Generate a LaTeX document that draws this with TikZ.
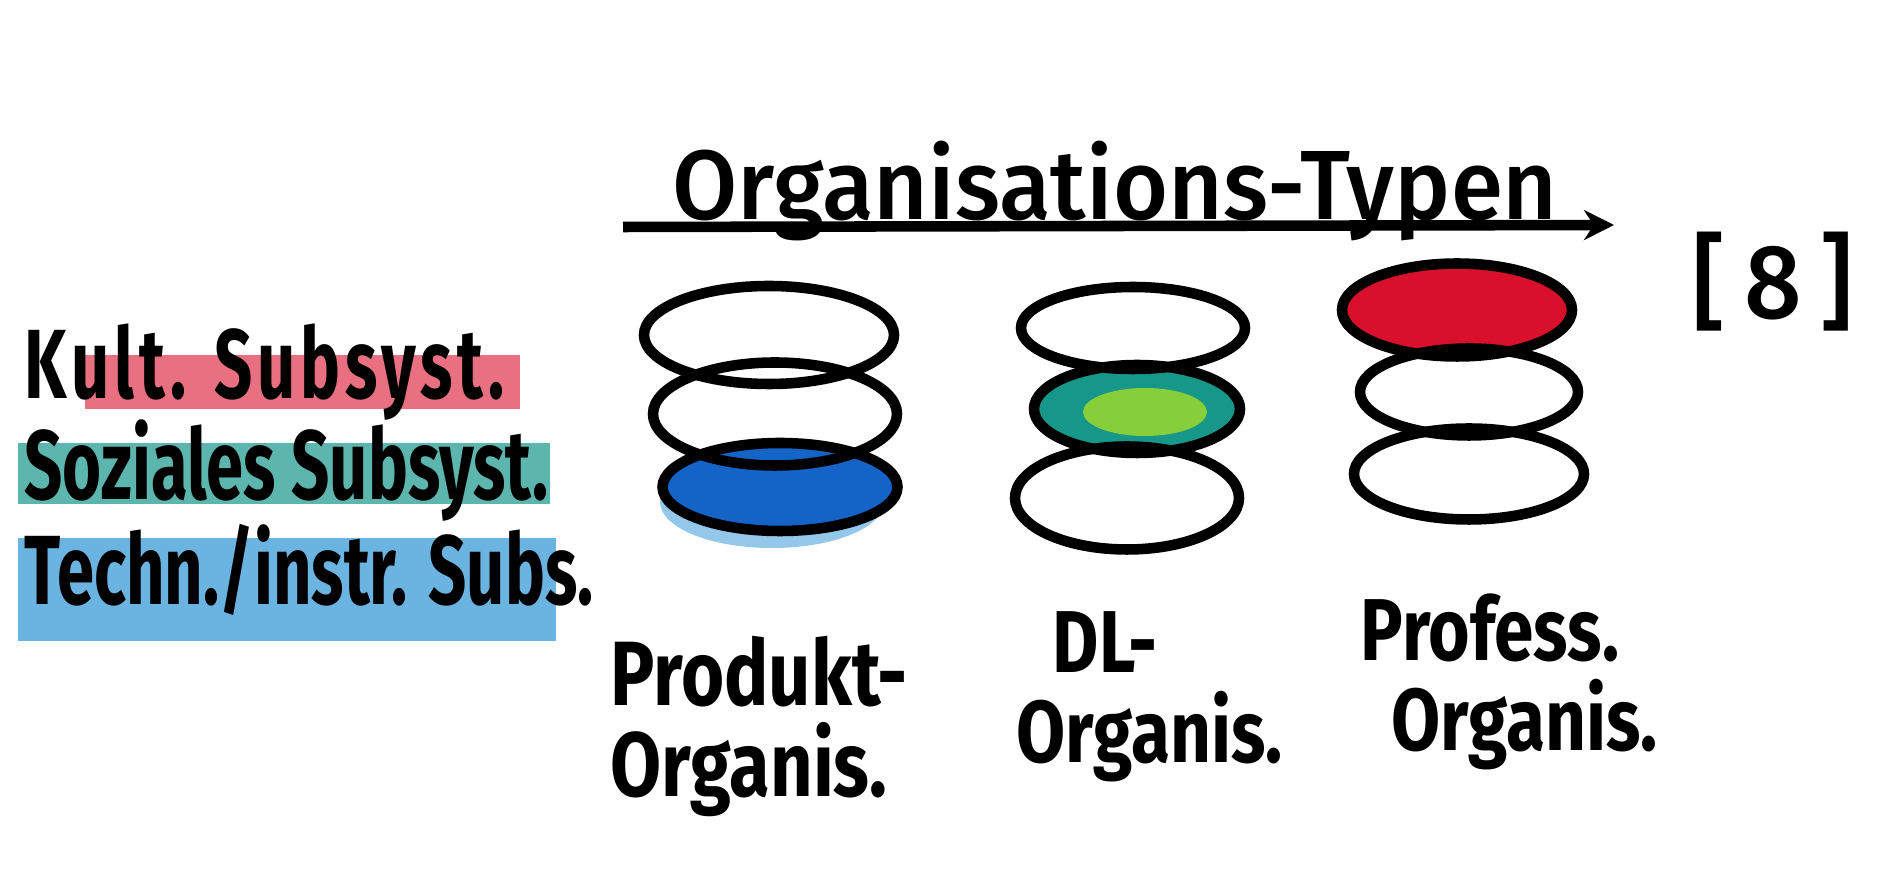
\documentclass[tikz,border=0pt]{standalone}
\usepackage{fontspec}
\usepackage{xcolor}
\usetikzlibrary{shapes.geometric,arrows.meta}
\newfontfamily\titelfont[FakeStretch=0.96]{Fira Sans Medium}
\newfontfamily\handfont[FakeStretch=0.68]{Fira Sans}
\newfontfamily\typfont[FakeStretch=0.81]{Fira Sans}
\definecolor{Kult}{HTML}{D8102C}
\definecolor{Sozial}{HTML}{17968A}
\definecolor{SozialHell}{HTML}{86CF3A}
\definecolor{Techn}{HTML}{1464C8}
\definecolor{TechnHell}{HTML}{3A9BD8}
\tikzset{
  scheibe/.style={ellipse, draw, line width=3pt, inner sep=0pt},
  hand/.style={font=\handfont\bfseries\fontsize{28}{30}\selectfont, inner sep=0pt},
  typ/.style={font=\typfont\bfseries\fontsize{25}{25.5}\selectfont, inner sep=0pt, align=left, anchor=north west},
}

\begin{document}
\begin{tikzpicture}%
\useasboundingbox[fill=white] (0,0) rectangle (18.96,-8.70);%
% Farbbalken der Legende
\fill[Kult!60] (0.85,-3.55) rectangle (5.20,-4.09);%
\fill[Sozial!70] (0.18,-4.43) rectangle (5.50,-5.04);%
\fill[TechnHell!75] (0.18,-5.38) rectangle (5.56,-6.41);%
\node[hand, anchor=base west] (kult) at (0.24,-3.99) {\addfontfeature{LetterSpace=5}Kult. Subsyst.};%
\node[hand, anchor=base west] (sozial) at (0.24,-5.00) {Soziales Subsyst.};%
\node[hand, anchor=base west] (techn) at (0.24,-6.05) {Techn./instr. Subs.};%
% Titel
\node[font=\titelfont\fontsize{28}{30}\selectfont, inner sep=0pt, anchor=base] (titel) at (11.15,-2.20) {Organisations-Typen};%
\coordinate (linieA) at (6.23,-2.27);%
\coordinate (linieB) at (16.14,-2.25);%
\draw[line width=3pt, -{Stealth[length=3mm, width=3mm]}] (linieA) -- (linieB);%
\node[font=\titelfont\fontsize{30}{32}\selectfont\addfontfeature{LetterSpace=18}, inner sep=0pt] (quelle) at (17.73,-2.82) {[8]};%
% Produkt-Organisation
\fill[TechnHell!55] (7.72,-5.02) ellipse (1.12cm and 0.46cm);%
\node[scheibe, fill=Techn, minimum width=2.35cm, minimum height=0.88cm] (p3) at (7.80,-4.87) {};%
\node[scheibe, minimum width=2.50cm, minimum height=0.98cm] (p1) at (7.69,-3.35) {};%
\node[scheibe, minimum width=2.44cm, minimum height=1.03cm] (p2) at (7.75,-4.14) {};%
% DL-Organisation
\node[scheibe, fill=Sozial, minimum width=2.06cm, minimum height=0.88cm] (d2) at (11.37,-4.09) {};%
\fill[SozialHell] (11.45,-4.12) ellipse (0.62cm and 0.24cm);%
\node[scheibe, minimum width=2.24cm, minimum height=0.82cm] (d1) at (11.33,-3.28) {};%
\node[scheibe, minimum width=2.24cm, minimum height=1.03cm] (d3) at (11.27,-4.98) {};%
% Profess.-Organisation
\node[scheibe, fill=Kult, minimum width=2.30cm, minimum height=0.93cm] (f1) at (14.57,-3.10) {};%
\node[scheibe, minimum width=2.18cm, minimum height=0.87cm] (f2) at (14.69,-3.92) {};%
\node[scheibe, minimum width=2.30cm, minimum height=0.91cm] (f3) at (14.69,-4.74) {};%
% Beschriftung
\node[typ, font=\typfont\bfseries\fontsize{26}{26}\selectfont] (produkt) at (6.10,-6.35) {Produkt-\\Organis.};%
\node[typ] (dl) at (10.16,-6.11) {\hspace*{0.36cm}DL-\\Organis.};%
\node[typ] (profess) at (13.60,-5.93) {Profess.\\\hspace*{0.31cm}Organis.};%
\end{tikzpicture}
\end{document}
